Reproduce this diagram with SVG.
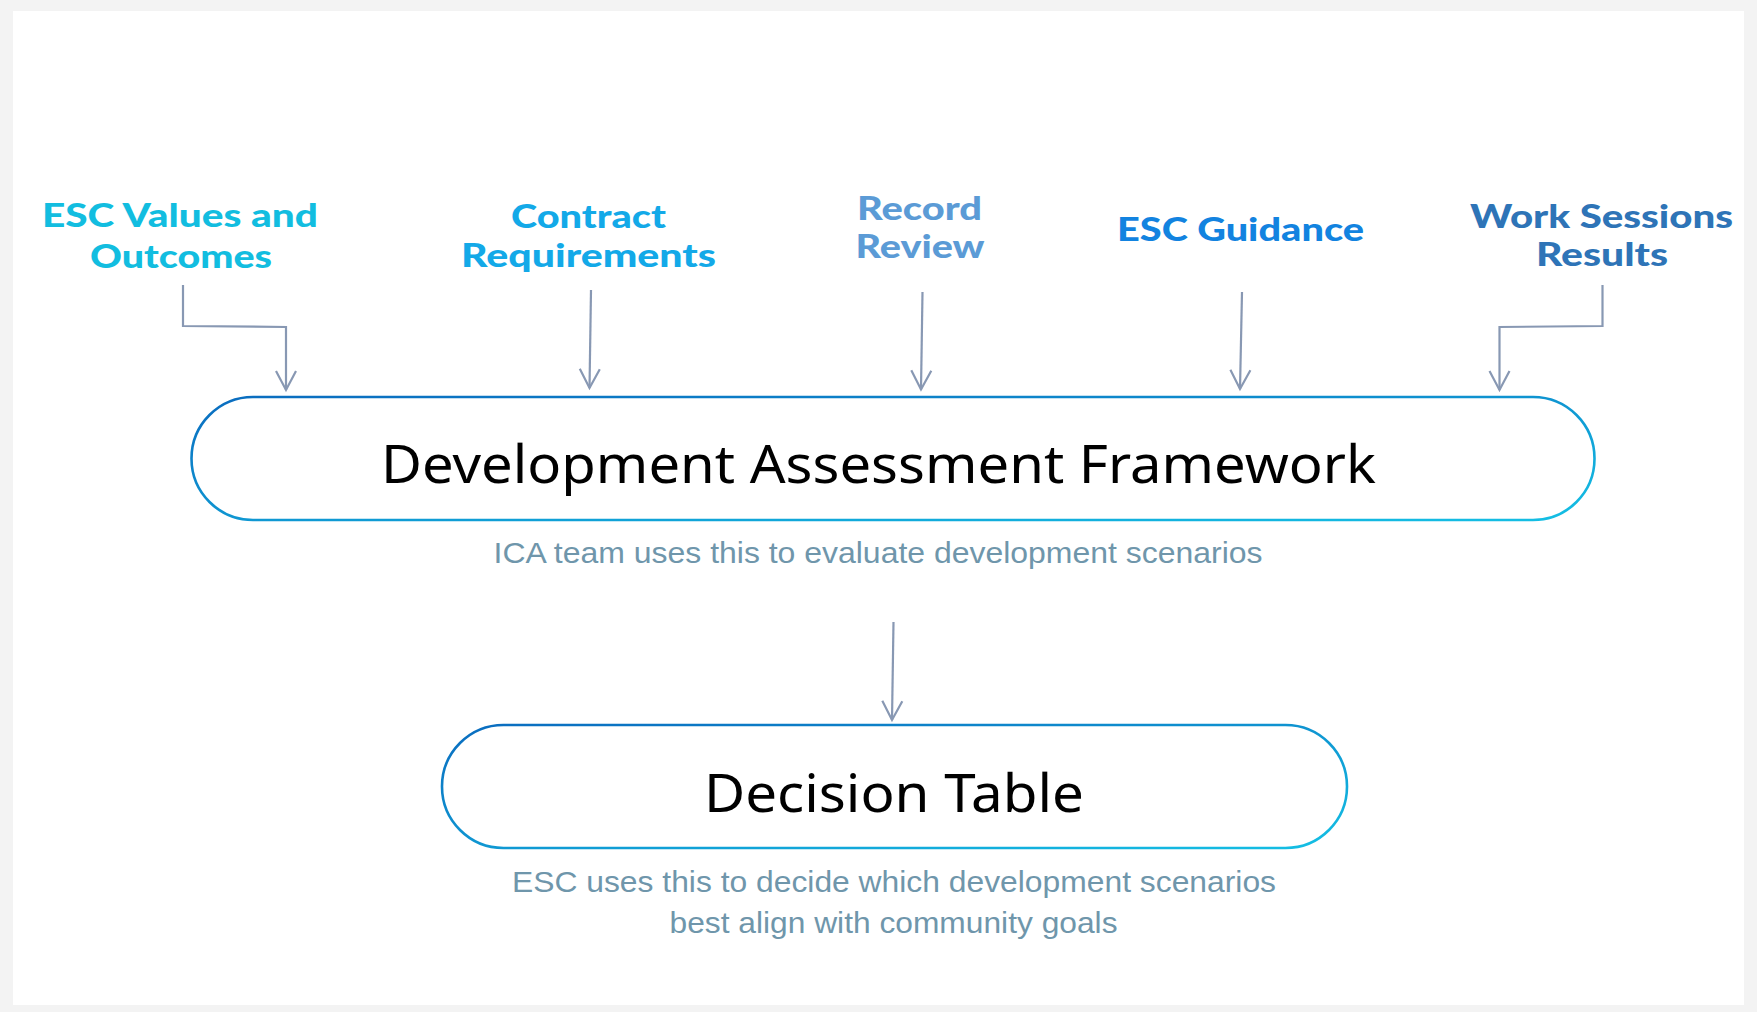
<svg xmlns="http://www.w3.org/2000/svg" width="1757" height="1012" viewBox="0 0 1757 1012">
  <defs>
    <linearGradient id="pillGrad" x1="0" y1="0" x2="1" y2="1">
      <stop offset="0" stop-color="#0a6cbf"/>
      <stop offset="1" stop-color="#14bfe4"/>
    </linearGradient>
    <marker id="arrow" viewBox="0 0 24 24" refX="21" refY="12" markerWidth="24" markerHeight="24" markerUnits="userSpaceOnUse" orient="auto">
      <path d="M2,2 L21,12 L2,22" fill="none" stroke="#8898b3" stroke-width="2.2"/>
    </marker>
  </defs>
  <style>
    .pill { fill: #ffffff; stroke: url(#pillGrad); stroke-width: 2.6; }
    .title { font-family: "Noto Sans", "Open Sans", sans-serif; font-size: 52px; fill: #000000; text-anchor: middle; }
    .note { font-family: "Liberation Sans", Arial, sans-serif; font-size: 30px; fill: #6f96ab; text-anchor: middle; }
    .label { font-family: "Lato", "Noto Sans", sans-serif; font-weight: 900; font-size: 32px; text-anchor: middle; }
    .conn { fill: none; stroke: #8898b3; stroke-width: 2.2; marker-end: url(#arrow); }
  </style>

  <rect x="0" y="0" width="1757" height="1012" fill="#f3f3f3"/>
  <rect x="13" y="11" width="1731" height="994" fill="#ffffff"/>

  <g id="label-esc-values">
    <text class="label" fill="#12bde0"><tspan x="180" y="227" textLength="276" lengthAdjust="spacingAndGlyphs">ESC Values and</tspan><tspan x="181" y="268" textLength="182" lengthAdjust="spacingAndGlyphs">Outcomes</tspan></text>
  </g>
  <g id="label-contract">
    <text class="label" fill="#13a9e8"><tspan x="588.5" y="228" textLength="155" lengthAdjust="spacingAndGlyphs">Contract</tspan><tspan x="588.5" y="267" textLength="255" lengthAdjust="spacingAndGlyphs">Requirements</tspan></text>
  </g>
  <g id="label-record">
    <text class="label" fill="#5b9bd6"><tspan x="919.5" y="220" textLength="125" lengthAdjust="spacingAndGlyphs">Record</tspan><tspan x="920" y="258" textLength="129" lengthAdjust="spacingAndGlyphs">Review</tspan></text>
  </g>
  <g id="label-esc-guidance">
    <text class="label" fill="#1283e0"><tspan x="1240.5" y="241" textLength="247" lengthAdjust="spacingAndGlyphs">ESC Guidance</tspan></text>
  </g>
  <g id="label-work-sessions">
    <text class="label" fill="#2e74b7"><tspan x="1601.5" y="228" textLength="263" lengthAdjust="spacingAndGlyphs">Work Sessions</tspan><tspan x="1602" y="266" textLength="132" lengthAdjust="spacingAndGlyphs">Results</tspan></text>
  </g>

  <g id="connectors">
    <path class="conn" d="M183,285 L183,326 L286,327 L286,390"/>
    <path class="conn" d="M591,290 L589.5,388"/>
    <path class="conn" d="M922.5,292 L921,389.5"/>
    <path class="conn" d="M1242,292 L1240,389"/>
    <path class="conn" d="M1602.5,285 L1602.5,326 L1499.5,327 L1499.5,390"/>
    <path class="conn" d="M893.5,622 L892,720"/>
  </g>

  <g id="node-daf">
    <rect class="pill" x="191.5" y="397" width="1403" height="123" rx="61.5" ry="61.5"/>
    <text class="title" x="878.5" y="483" textLength="995" lengthAdjust="spacingAndGlyphs">Development Assessment Framework</text>
    <text class="note" x="878" y="563" textLength="769" lengthAdjust="spacingAndGlyphs">ICA team uses this to evaluate development scenarios</text>
  </g>

  <g id="node-decision">
    <rect class="pill" x="442" y="725" width="905" height="123" rx="61.5" ry="61.5"/>
    <text class="title" x="894" y="812" textLength="380" lengthAdjust="spacingAndGlyphs">Decision Table</text>
    <text class="note" x="894" y="892" textLength="764" lengthAdjust="spacingAndGlyphs">ESC uses this to decide which development scenarios</text>
    <text class="note" x="893.5" y="933" textLength="448" lengthAdjust="spacingAndGlyphs">best align with community goals</text>
  </g>
</svg>
